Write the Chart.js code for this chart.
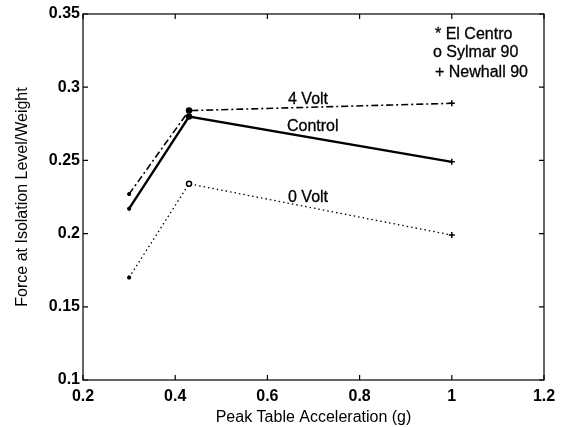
<!DOCTYPE html>
<html>
<head>
<meta charset="utf-8">
<script src="https://cdn.jsdelivr.net/npm/chart.js@4"></script>
<style>
  html, body { margin: 0; padding: 0; background: #fff; }
  #wrap { width: 566px; height: 427px; }
</style>
</head>
<body>
<div id="wrap"><canvas id="forceChart"></canvas></div>
<script>
// peak table acceleration (g) for the three records
const accel = [0.3, 0.43, 1.0];
const records = ['El Centro', 'Sylmar 90', 'Newhall 90'];
const markers = ['star', 'circle', 'cross'];

const volt4 = [0.227, 0.284, 0.289];
const control = [0.217, 0.280, 0.249];
const volt0 = [0.170, 0.234, 0.199];

const xTicks = [0.2, 0.4, 0.6, 0.8, 1, 1.2];
const yTicks = [0.1, 0.15, 0.2, 0.25, 0.3, 0.35];

// text placed on the plot, in data units
const lineNotes = [
    { text: '4 Volt', x: 0.6447, y: 0.2913 },
    { text: 'Control', x: 0.6425, y: 0.2728 },
    { text: '0 Volt', x: 0.6447, y: 0.2243 }
];
const keyNotes = [
    { text: '* El Centro', x: 0.9636, y: 0.3357 },
    { text: 'o Sylmar 90', x: 0.9592, y: 0.3234 },
    { text: '+ Newhall 90', x: 0.9636, y: 0.3097 }
];

const FONT = '"Liberation Sans", Arial, sans-serif';

const toXY = (ys) => accel.map((x, i) => ({ x, y: ys[i] }));

// box round the plot with inward ticks on every side, plus the notes
const framePlugin = {
    id: 'frame',
    afterDatasetsDraw(c) {
        const { ctx, chartArea: a, scales } = c;
        ctx.save();
        ctx.strokeStyle = '#000';
        ctx.lineWidth = 1.2;
        ctx.strokeRect(a.left, a.top, a.right - a.left, a.bottom - a.top);
        const len = 5;
        ctx.beginPath();
        xTicks.forEach(v => {
            const px = scales.x.getPixelForValue(v);
            ctx.moveTo(px, a.bottom); ctx.lineTo(px, a.bottom - len);
            ctx.moveTo(px, a.top); ctx.lineTo(px, a.top + len);
        });
        yTicks.forEach(v => {
            const py = scales.y.getPixelForValue(v);
            ctx.moveTo(a.left, py); ctx.lineTo(a.left + len, py);
            ctx.moveTo(a.right, py); ctx.lineTo(a.right - len, py);
        });
        ctx.stroke();

        ctx.fillStyle = '#000';
        ctx.strokeStyle = '#000';
        ctx.lineWidth = 0.3;
        ctx.font = '16px ' + FONT;
        ctx.textBaseline = 'middle';
        ctx.textAlign = 'left';
        lineNotes.concat(keyNotes).forEach(n => {
            const px = scales.x.getPixelForValue(n.x);
            const py = scales.y.getPixelForValue(n.y);
            ctx.fillText(n.text, px, py);
            ctx.strokeText(n.text, px, py);
        });
        ctx.restore();
    }
};

const pointOpts = (fill) => ({
    pointStyle: markers,
    pointRadius: [2, 2.5, 3],
    pointBorderWidth: 1.5,
    pointBorderColor: '#000',
    pointBackgroundColor: fill
});

new Chart(document.getElementById('forceChart'), {
    type: 'line',
    data: {
        datasets: [
            Object.assign({
                label: '4 Volt',
                data: toXY(volt4),
                borderColor: '#000',
                borderWidth: 1.6,
                borderDash: [7, 3, 2, 3]
            }, pointOpts('#000')),
            Object.assign({
                label: 'Control',
                data: toXY(control),
                borderColor: '#000',
                borderWidth: 2.4
            }, pointOpts('#000')),
            Object.assign({
                label: '0 Volt',
                data: toXY(volt0),
                borderColor: '#000',
                borderWidth: 1.3,
                borderDash: [1.5, 3]
            }, pointOpts('#fff'))
        ]
    },
    options: {
        responsive: true,
        maintainAspectRatio: false,
        animation: false,
        layout: { padding: { top: 14, right: 22, left: 0, bottom: 0 } },
        plugins: {
            legend: { display: false },
            tooltip: { enabled: false }
        },
        scales: {
            x: {
                type: 'linear',
                min: 0.2,
                max: 1.2,
                afterBuildTicks: (s) => { s.ticks = xTicks.map(v => ({ value: v })); },
                afterFit: (s) => { s.height = 47; },
                grid: { display: false, drawTicks: false },
                border: { display: false },
                ticks: {
                    color: '#000',
                    padding: 7,
                    font: { family: FONT, size: 16, weight: 'bold' },
                    callback: (v) => String(v)
                },
                title: {
                    display: true,
                    text: 'Peak Table Acceleration (g)',
                    color: '#000',
                    padding: { top: 2, bottom: 0 },
                    font: { family: FONT, size: 16 }
                }
            },
            y: {
                min: 0.1,
                max: 0.35,
                afterBuildTicks: (s) => { s.ticks = yTicks.map(v => ({ value: v })); },
                afterFit: (s) => { s.width = 83; },
                grid: { display: false, drawTicks: false },
                border: { display: false },
                ticks: {
                    color: '#000',
                    padding: 3,
                    font: { family: FONT, size: 16, weight: 'bold' },
                    callback: (v) => String(Math.round(v * 100) / 100)
                },
                title: {
                    display: true,
                    text: 'Force at Isolation Level/Weight',
                    color: '#000',
                    padding: { top: 13, bottom: 0 },
                    font: { family: FONT, size: 16 }
                }
            }
        }
    },
    plugins: [framePlugin]
});
</script>
</body>
</html>
